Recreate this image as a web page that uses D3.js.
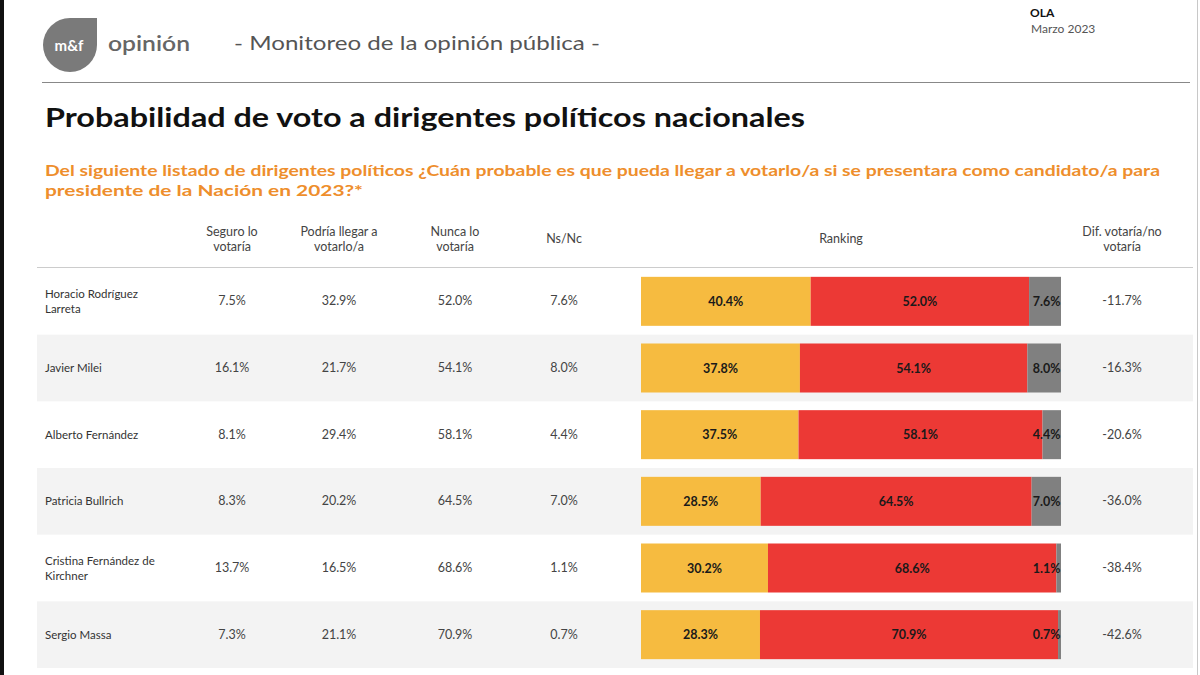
<!DOCTYPE html>
<html><head><meta charset="utf-8">
<script src="https://cdn.jsdelivr.net/npm/d3@7"></script>
<style>body{margin:0;background:#fff}svg{display:block}</style>
</head><body>
<script>
const names = [["Horacio Rodríguez","Larreta"],["Javier Milei"],["Alberto Fernández"],["Patricia Bullrich"],["Cristina Fernández de","Kirchner"],["Sergio Massa"]];
const seguro = ["7.5%","16.1%","8.1%","8.3%","13.7%","7.3%"];
const podria = ["32.9%","21.7%","29.4%","20.2%","16.5%","21.1%"];
const nunca = ["52.0%","54.1%","58.1%","64.5%","68.6%","70.9%"];
const nsnc = ["7.6%","8.0%","4.4%","7.0%","1.1%","0.7%"];
const votariaRank = [40.4,37.8,37.5,28.5,30.2,28.3];
const nuncaRank = [52.0,54.1,58.1,64.5,68.6,70.9];
const nsRank = [7.6,8.0,4.4,7.0,1.1,0.7];
const dif = ["-11.7%","-16.3%","-20.6%","-36.0%","-38.4%","-42.6%"];
const headers = [["Seguro lo","votaría"],["Podría llegar a","votarlo/a"],["Nunca lo","votaría"],["Ns/Nc"],["Ranking"],["Dif. votaría/no","votaría"]];
const seriesKeys = ["votaria","nunca","ns"];
const colors = {votaria:"#F6BB40", nunca:"#EC3935", ns:"#808080"};

const W=1200,H=675;
const F = "'Century Gothic','URW Gothic','Lato','Open Sans',sans-serif";
const svg = d3.select("body").append("svg").attr("width",W).attr("height",H);

// frame
svg.append("rect").attr("x",0).attr("y",0).attr("width",4).attr("height",H).attr("fill","#111");
svg.append("line").attr("x1",1197.5).attr("x2",1197.5).attr("y1",0).attr("y2",H).attr("stroke","#c8c8c8");

// logo
const cx=70, cy=45, r=27;
svg.append("path").attr("fill","#7a7a7a")
  .attr("d",`M${cx},${cy-r} L${cx+r},${cy-r} L${cx+r},${cy} A${r},${r} 0 1 1 ${cx},${cy-r} Z`);
svg.append("text").attr("x",cx-1).attr("y",cy+6).attr("text-anchor","middle").attr("fill","#fff")
  .attr("font-family",F).attr("font-weight","bold").attr("font-size",15).text("m&f");
svg.append("text").attr("x",108).attr("y",51).attr("fill","#666").attr("font-family",F).attr("font-weight","600").attr("font-size",21)
  .attr("textLength",82).attr("lengthAdjust","spacingAndGlyphs").text("opinión");
svg.append("text").attr("x",234).attr("y",50).attr("fill","#555").attr("font-family",F).attr("font-size",20)
  .attr("textLength",366).attr("lengthAdjust","spacingAndGlyphs").text("- Monitoreo de la opinión pública -");
svg.append("line").attr("x1",42).attr("x2",1190).attr("y1",82.5).attr("y2",82.5).attr("stroke","#888").attr("stroke-width",1);
svg.append("text").attr("x",1030).attr("y",17).attr("font-family",F).attr("font-weight","bold").attr("font-size",12).attr("fill","#111").text("OLA");
svg.append("text").attr("x",1031).attr("y",33).attr("font-family",F).attr("font-size",12).attr("fill","#555").text("Marzo 2023");

// title & subtitle
svg.append("text").attr("x",45).attr("y",127).attr("font-family",F).attr("font-weight","bold").attr("font-size",26).attr("fill","#111")
  .attr("textLength",760).attr("lengthAdjust","spacingAndGlyphs").text("Probabilidad de voto a dirigentes políticos nacionales");
svg.append("text").attr("x",45).attr("y",176).attr("font-family",F).attr("font-weight","bold").attr("font-size",16).attr("fill","#EE8E2C")
  .attr("textLength",1115).attr("lengthAdjust","spacingAndGlyphs").text("Del siguiente listado de dirigentes políticos ¿Cuán probable es que pueda llegar a votarlo/a si se presentara como candidato/a para");
svg.append("text").attr("x",45).attr("y",196).attr("font-family",F).attr("font-weight","bold").attr("font-size",16).attr("fill","#EE8E2C")
  .attr("textLength",318).attr("lengthAdjust","spacingAndGlyphs").text("presidente de la Nación en 2023?*");

// columns
const colX = [232,339,455,564,841,1122];
headers.forEach((h,i)=>{
  const t = svg.append("text").attr("text-anchor","middle").attr("font-family",F).attr("font-size",12.5).attr("fill","#444");
  const y0 = h.length===1 ? 243 : 236;
  h.forEach((s,j)=>t.append("tspan").attr("x",colX[i]).attr("y",y0+j*15).text(s));
});

const y = d3.scaleBand().domain(d3.range(names.length)).range([268,668]).paddingInner(0).paddingOuter(0);
const rows = svg.append("g");
rows.selectAll("rect").data(d3.range(names.length).filter(i=>i%2===1)).join("rect")
  .attr("x",37).attr("width",1156).attr("y",i=>y(i)).attr("height",y.bandwidth()).attr("fill","#f3f3f3");
svg.append("line").attr("x1",37).attr("x2",1193).attr("y1",267.5).attr("y2",267.5).attr("stroke","#ccc");

// names
names.forEach((n,i)=>{
  const t = svg.append("text").attr("font-family",F).attr("font-size",11.5).attr("fill","#333");
  const yc = y(i)+y.bandwidth()/2;
  n.forEach((s,j)=>t.append("tspan").attr("x",45).attr("y",yc+4-(n.length-1)*7.5+j*15).text(s));
});
const cols = [seguro,podria,nunca,nsnc];
cols.forEach((arr,c)=>{
  svg.append("g").selectAll("text").data(arr).join("text")
    .attr("x",colX[c]).attr("y",(d,i)=>y(i)+y.bandwidth()/2+4).attr("text-anchor","middle")
    .attr("font-family",F).attr("font-size",12.5).attr("fill","#444").text(d=>d);
});
svg.append("g").selectAll("text").data(dif).join("text")
  .attr("x",colX[5]).attr("y",(d,i)=>y(i)+y.bandwidth()/2+4).attr("text-anchor","middle")
  .attr("font-family",F).attr("font-size",12.5).attr("fill","#444").text(d=>d);

// bars
const table = names.map((n,i)=>({idx:i, votaria:votariaRank[i], nunca:nuncaRank[i], ns:nsRank[i]}));
const stack = d3.stack().keys(seriesKeys).offset(d3.stackOffsetExpand)(table);
const x = d3.scaleLinear().domain([0,1]).range([641,1061]);
const barH = 49;
const bg = svg.append("g");
stack.forEach(s=>{
  bg.append("g").selectAll("rect").data(s).join("rect")
    .attr("x",d=>x(d[0])).attr("width",d=>x(d[1])-x(d[0]))
    .attr("y",d=>y(d.data.idx)+(y.bandwidth()-barH)/2).attr("height",barH)
    .attr("fill",colors[s.key]);
  bg.append("g").selectAll("text").data(s).join("text")
    .attr("x",d=> s.key==="ns" ? x(d[1])-0.5 : (x(d[0])+x(d[1]))/2)
    .attr("text-anchor", s.key==="ns" ? "end":"middle")
    .attr("y",d=>y(d.data.idx)+y.bandwidth()/2+4.5)
    .attr("font-family",F).attr("font-weight","bold").attr("font-size",12.5).attr("fill","#1a1a1a")
    .text(d=>d.data[s.key].toFixed(1)+"%");
});
</script>
</body></html>
